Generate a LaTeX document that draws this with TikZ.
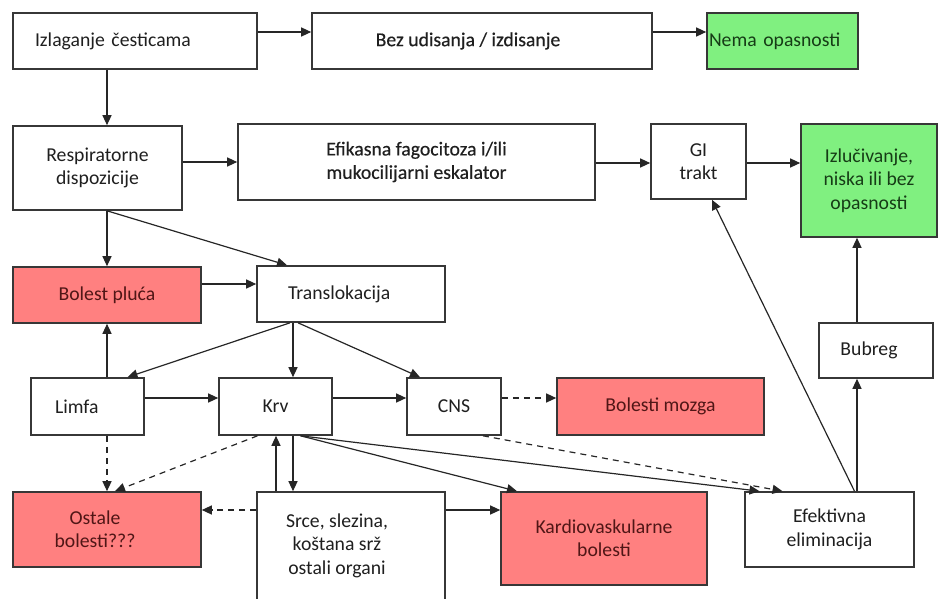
\documentclass[tikz,border=0pt]{standalone}
\usepackage{fontspec}
\setmainfont{Carlito}
\newfontfamily\darkfont[FakeBold=0.4]{Carlito}
\usepackage{tikz}
\usetikzlibrary{arrows.meta}
\definecolor{safegreen}{RGB}{128,240,128}
\definecolor{safetext}{RGB}{22,60,22}
\definecolor{illred}{RGB}{255,128,128}
\definecolor{illtext}{RGB}{80,22,22}
\definecolor{boxline}{RGB}{55,55,55}
\tikzset{
  boxtext/.style={font=\fontsize{19.7}{23.4}\selectfont,align=center,inner sep=0pt},
  stepbox/.style={draw=boxline,line width=1.6pt,fill=white,inner sep=0pt,
                  text=black!88,boxtext},
  leftbox/.style={stepbox,align=left},
  safe/.style={stepbox,fill=safegreen,text=safetext},
  ill/.style={stepbox,fill=illred,text=illtext},
  flow/.style={-{Triangle[length=10pt,width=9pt]},line width=1.2pt,black!85},
  maybe/.style={flow,dash pattern=on 6pt off 5pt},
}
\begin{document}
\begin{tikzpicture}[x=1pt,y=-1pt]
  \useasboundingbox (0,0) rectangle (939,599);

  % top rows
  \node[leftbox,minimum width=244pt,minimum height=56pt,text width=200pt,inner xsep=22pt]
    (izlaganje) at (135,41) {Izlaganje česticama};
  \node[stepbox,minimum width=340pt,minimum height=56pt,font=\darkfont\fontsize{19.7}{23.4}\selectfont]
    (bezudis) at (482,41) {\hspace*{-28pt}Bez udisanja / izdisanje};
  \node[safe,align=left,minimum width=151pt,minimum height=56pt,text width=147pt,inner xsep=2pt]
    (nema) at (782.5,41) {Nema opasnosti};

  \node[stepbox,minimum width=169pt,minimum height=84pt]
    (resp) at (97.5,168) {Respiratorne\\dispozicije};
  \node[stepbox,minimum width=357pt,minimum height=76pt,font=\darkfont\fontsize{19.7}{23.4}\selectfont]
    (efik) at (416.5,162) {Efikasna fagocitoza i/ili\\mukocilijarni eskalator};
  \node[stepbox,minimum width=95pt,minimum height=75pt]
    (gi) at (698.5,161.5) {GI\\trakt};
  \node[safe,minimum width=136pt,minimum height=113pt]
    (izluc) at (869,180.5) {Izlučivanje,\\niska ili bez\\opasnosti};

  % middle rows
  \node[ill,minimum width=188pt,minimum height=56pt]
    (pluca) at (107,295) {Bolest pluća};
  \node[leftbox,minimum width=188pt,minimum height=56pt,text width=126pt,inner xsep=31pt]
    (transl) at (351,294) {Translokacija};
  \node[leftbox,minimum width=113pt,minimum height=57pt,text width=65pt,inner xsep=24pt]
    (limfa) at (87.5,406.5) {Limfa};
  \node[stepbox,minimum width=113pt,minimum height=57pt]
    (krv) at (275.5,406.5) {Krv};
  \node[stepbox,minimum width=94pt,minimum height=57pt]
    (cns) at (454,406.5) {CNS};
  \node[ill,minimum width=207pt,minimum height=57pt]
    (mozak) at (660.5,406.5) {Bolesti mozga};
  \node[stepbox,minimum width=114pt,minimum height=55pt]
    (bubreg) at (876,350.5) {\hspace*{-14pt}Bubreg};

  % bottom row
  \node[ill,minimum width=188pt,minimum height=75pt,
        label={[boxtext,text=illtext,xshift=-12pt]center:{Ostale\\bolesti???}}]
    (ostale) at (107,529.5) {};
  \node[stepbox,minimum width=188pt,minimum height=113pt,
        label={[boxtext,text=black!88,xshift=-14pt,yshift=3pt]center:{Srce, slezina,\\koštana srž\\ostali organi}}]
    (srce) at (351,548.5) {};
  \node[ill,minimum width=206pt,minimum height=93pt]
    (kardio) at (604,538.5) {Kardiovaskularne\\bolesti};
  \node[stepbox,minimum width=169pt,minimum height=75pt]
    (efekt) at (829.5,529.5) {Efektivna\\eliminacija};

  % connectors
  \draw[flow] ([yshift=9pt]izlaganje.east) -- ([yshift=9pt]bezudis.west);
  \draw[flow] ([yshift=9pt]bezudis.east) -- ([yshift=9pt]nema.west);
  \draw[flow] ([xshift=-28pt]izlaganje.south) -- ([xshift=-28pt]izlaganje.south |- resp.north);
  \draw[flow] (efik.west -| resp.east) -- (efik.west);
  \draw[flow] ([yshift=-1pt]efik.east) -- ([yshift=-1pt]efik.east -| gi.west);
  \draw[flow] ([yshift=-1pt]efik.east -| gi.east) -- ([yshift=-1pt]efik.east -| izluc.west);
  \draw[flow] (pluca.north |- resp.south) -- (pluca.north);
  \draw[flow] (pluca.north |- resp.south) -- ([xshift=-64pt]transl.north);
  \draw[flow] ([yshift=11pt]pluca.east) -- ([yshift=11pt]pluca.east -| transl.west);

  \draw[flow] ([xshift=-61pt]transl.south) -- ([xshift=40pt]limfa.north);
  \draw[flow] ([xshift=-58pt]transl.south) -- ([xshift=-58pt]transl.south |- krv.north);
  \draw[flow] ([xshift=-53pt]transl.south) -- ([xshift=-34pt]cns.north);
  \draw[flow] (limfa.north -| pluca.south) -- (pluca.south);
  \draw[flow] ([yshift=8.5pt]limfa.east) -- ([yshift=8.5pt]limfa.east -| krv.west);
  \draw[flow] ([yshift=8.5pt]krv.east) -- ([yshift=8.5pt]krv.east -| cns.west);
  \draw[maybe] ([yshift=8.5pt]cns.east) -- ([yshift=8.5pt]cns.east -| mozak.west);

  \draw[maybe] (limfa.south -| ostale.north) -- (ostale.north);
  \draw[maybe] ([xshift=-18pt]krv.south) -- ([xshift=8pt]ostale.north);
  \draw[flow] ([xshift=17.5pt]krv.south) -- ([xshift=17.5pt]krv.south |- srce.north);
  \draw[flow] ([xshift=-75pt]srce.north) -- ([xshift=-75pt]srce.north |- krv.south);
  \draw[flow] ([xshift=25pt]krv.south) -- ([xshift=-87pt]kardio.north);
  \draw[flow] ([xshift=25pt]krv.south) -- ([xshift=-70pt]efekt.north);
  \draw[maybe] ([xshift=29pt]cns.south) -- ([xshift=-47pt]efekt.north);
  \draw[maybe] ([yshift=38.5pt]srce.west) -- ([yshift=38.5pt]srce.west -| ostale.east);
  \draw[flow] ([yshift=38.5pt]srce.east) -- ([yshift=38.5pt]srce.east -| kardio.west);

  \draw[flow] ([xshift=25pt]efekt.north) -- ([xshift=13.5pt]gi.south);
  \draw[flow] ([xshift=27.5pt]efekt.north) -- ([xshift=27.5pt]efekt.north |- bubreg.south);
  \draw[flow] ([xshift=-19pt]bubreg.north) -- ([xshift=-19pt]bubreg.north |- izluc.south);
\end{tikzpicture}
\end{document}
